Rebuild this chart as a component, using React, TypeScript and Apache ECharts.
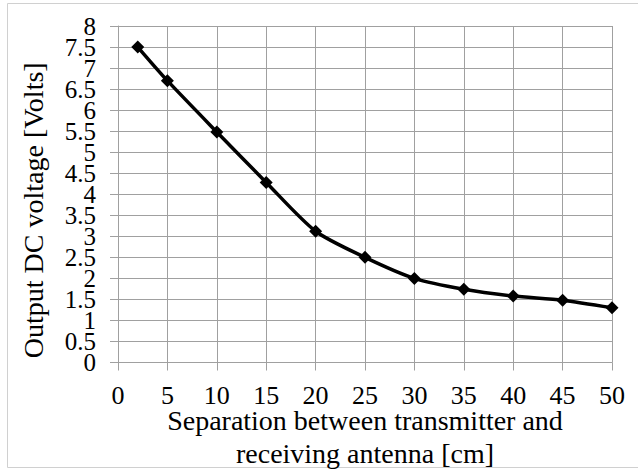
import React, { useEffect, useRef } from "react";
import * as echarts from "echarts";

const distances = [2, 5, 10, 15, 20, 25, 30, 35, 40, 45, 50];
const voltages = [7.5, 6.7, 5.48, 4.28, 3.12, 2.5, 2.0, 1.74, 1.58, 1.48, 1.3];
const yWholeTicks = [0, 1, 2, 3, 4, 5, 6, 7, 8];
const yHalfTicks = [0.5, 1.5, 2.5, 3.5, 4.5, 5.5, 6.5, 7.5];
const xTitle = "Separation between transmitter and\nreceiving antenna [cm]";
const yTitle = "Output DC voltage [Volts]";

const FONT = "'Liberation Serif', 'Times New Roman', serif";
const GRID_COLOR = "#a0a0a0";

export default function App() {
  const ref = useRef<HTMLDivElement>(null);
  useEffect(() => {
    if (!ref.current) return;
    const chart = echarts.init(ref.current, undefined, { renderer: "svg" });
    const yBase = {
      type: "value",
      min: 0,
      max: 8,
      interval: 0.5,
      position: "left",
    };
    const yLabel = {
      fontFamily: FONT,
      fontSize: 25,
      color: "#000",
      margin: 22,
      hideOverlap: false,
      showMinLabel: true,
      showMaxLabel: true,
    };
    chart.setOption({
      animation: false,
      backgroundColor: "#ffffff",
      grid: {
        left: 118,
        right: 26,
        top: 26,
        bottom: 107.5,
        containLabel: false,
        outerBoundsMode: "none",
      },
      xAxis: {
        type: "value",
        min: 0,
        max: 50,
        interval: 5,
        axisLine: { show: true, lineStyle: { color: GRID_COLOR, width: 1 } },
        axisTick: { show: true, length: 8, lineStyle: { color: GRID_COLOR } },
        splitLine: { show: true, lineStyle: { color: GRID_COLOR, width: 1 } },
        axisLabel: {
          fontFamily: FONT,
          fontSize: 26,
          color: "#000",
          margin: 20,
          showMinLabel: true,
          showMaxLabel: true,
        },
        name: xTitle,
        nameLocation: "middle",
        nameGap: 41,
        nameMoveOverlap: false,
        nameTextStyle: {
          fontFamily: FONT,
          fontSize: 28,
          color: "#000",
          lineHeight: 33,
          verticalAlign: "top",
        },
      },
      yAxis: [
        {
          ...yBase,
          axisLine: { show: true, lineStyle: { color: GRID_COLOR, width: 1 } },
          axisTick: { show: true, length: 8, lineStyle: { color: GRID_COLOR } },
          splitLine: { show: true, lineStyle: { color: GRID_COLOR, width: 1 } },
          axisLabel: {
            ...yLabel,
            customValues: yWholeTicks,
          },
          name: yTitle,
          nameLocation: "middle",
          nameRotate: 90,
          nameGap: 71,
          nameMoveOverlap: false,
          nameTextStyle: {
            fontFamily: FONT,
            fontSize: 28,
            color: "#000",
            padding: [0, 32, 0, 0],
          },
        },
        {
          ...yBase,
          axisLine: { show: false },
          axisTick: { show: false },
          splitLine: { show: false },
          axisLabel: {
            ...yLabel,
            customValues: yHalfTicks,
          },
        },
      ],
      graphic: [
        {
          type: "rect",
          shape: { x: 7.5, y: 3.5, width: 640, height: 464 },
          style: { fill: "none", stroke: "#d0d0d0", lineWidth: 1 },
          silent: true,
          z: -1,
        },
      ],
      series: [
        {
          type: "line",
          yAxisIndex: 0,
          data: distances.map((d, i) => [d, voltages[i]]),
          smooth: 0.25,
          symbol: "diamond",
          symbolSize: 13,
          itemStyle: { color: "#000" },
          lineStyle: { color: "#000", width: 3.5 },
        },
      ],
    });
    return () => chart.dispose();
  }, []);
  return (
    <div
      ref={ref}
      style={{ position: "fixed", left: 0, top: 0, width: 638, height: 470 }}
    />
  );
}
